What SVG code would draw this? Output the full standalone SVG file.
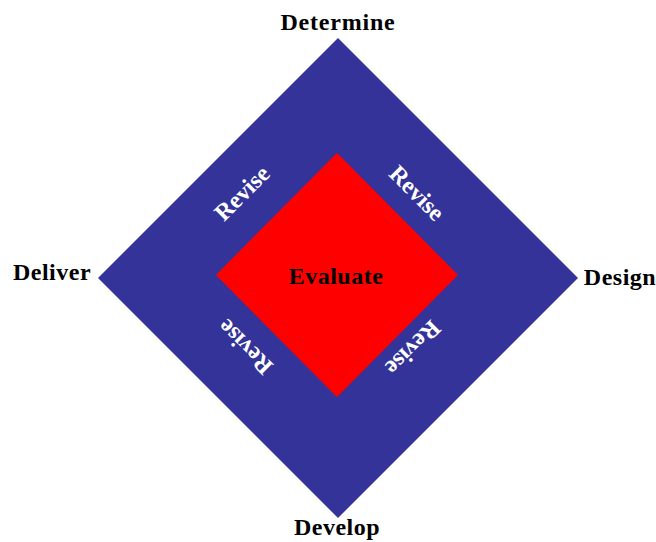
<svg xmlns="http://www.w3.org/2000/svg" width="656" height="542" viewBox="0 0 656 542">
<style>
.lbl{font-family:"Liberation Serif","Times New Roman",serif;font-weight:bold;font-size:24px;fill:#000;text-anchor:middle}
.rev{font-family:"Liberation Serif","Times New Roman",serif;font-weight:bold;font-size:24px;fill:#fff;text-anchor:middle}
</style>
<rect width="656" height="542" fill="#fff"/>
<g id="outer">
<polygon points="338,38 578,278 338,518 98,278" fill="#333399"/>
</g>
<g id="evaluate">
<polygon points="337,155 456,275 337,395 218,275" fill="#ff0000" stroke="#ff0000" stroke-width="3" stroke-linejoin="round"/>
<text class="lbl" x="336" y="284" letter-spacing="0.5">Evaluate</text>
</g>
<g id="determine"><text class="lbl" x="338" y="30" letter-spacing="0.8">Determine</text></g>
<g id="deliver"><text class="lbl" x="52" y="280" letter-spacing="0.5">Deliver</text></g>
<g id="design"><text class="lbl" x="620" y="285" letter-spacing="0.5">Design</text></g>
<g id="develop"><text class="lbl" x="337" y="535" letter-spacing="0.5">Develop</text></g>
<g id="revise-labels">
<text class="rev" transform="translate(242,193) rotate(-45)" y="8">Revise</text>
<text class="rev" transform="translate(417,193) rotate(45)" y="8">Revise</text>
<text class="rev" transform="translate(245,347) rotate(-135)" y="8">Revise</text>
<text class="rev" transform="translate(413,348) rotate(135)" y="8">Revise</text>
</g>
</svg>
